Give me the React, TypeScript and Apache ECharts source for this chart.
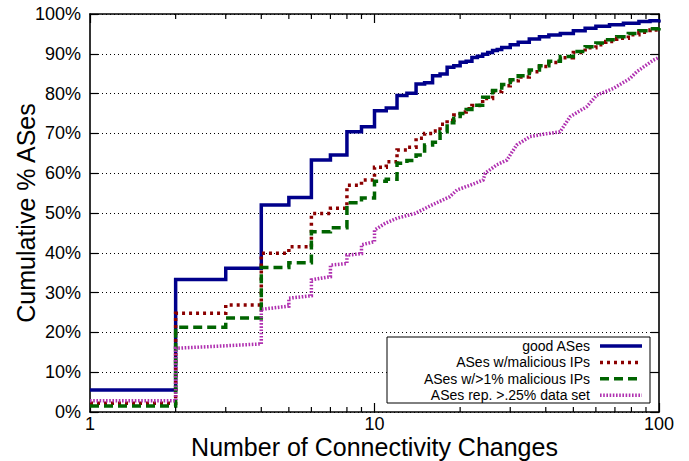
import React, { useEffect, useRef } from "react";
import * as echarts from "echarts";

// Step CDFs of connectivity changes per AS group: [changes, cumulative %]
const GOOD_ASES: [number, number][] = [
  [1, 5.5], [2, 33.3], [3, 36.1], [4, 52.0], [5, 53.9], [6, 63.3], [7, 64.6], [8, 70.4], [9, 71.7],
  [10, 75.7], [11, 76.4], [12, 79.5], [13, 80.1], [14, 82.4], [15, 82.7], [16, 84.5], [17, 84.9],
  [18, 86.6], [19, 87.0], [20, 87.9], [21, 88.1], [22, 89.1], [23, 89.4], [24, 89.9], [25, 90.3],
  [26, 90.8], [27, 91.1], [28, 91.6], [30, 92.3], [32, 92.9], [35, 93.7], [38, 94.3], [41, 94.7],
  [45, 95.1], [50, 95.8], [55, 96.4], [60, 96.9], [67, 97.3], [75, 97.7], [85, 98.1], [93, 98.3],
  [100, 98.6],
];

const MALICIOUS_ASES: [number, number][] = [
  [1, 2.2], [2, 24.8], [3, 26.9], [4, 39.9], [5, 41.5], [6, 49.9], [7, 51.2], [8, 57.0], [9, 58.3],
  [10, 61.5], [11, 62.9], [12, 65.8], [13, 66.5], [14, 68.8], [15, 70.0], [16, 70.6], [17, 72.3],
  [18, 73.3], [19, 74.6], [20, 75.4], [21, 76.2], [22, 77.0], [24, 78.8], [26, 80.5], [28, 82.0],
  [30, 83.2], [32, 84.2], [35, 85.5], [38, 86.8], [41, 87.8], [45, 89.0], [50, 90.3], [55, 91.5],
  [60, 92.3], [65, 93.1], [71, 93.9], [78, 94.8], [85, 95.4], [93, 96.0], [100, 96.4],
];

const MALICIOUS_1PCT_ASES: [number, number][] = [
  [1, 1.5], [2, 21.3], [3, 23.6], [4, 36.3], [5, 37.5], [6, 45.3], [7, 46.3], [8, 52.6], [9, 53.8],
  [10, 58.0], [11, 58.5], [12, 62.5], [13, 63.2], [14, 64.6], [15, 67.1], [16, 67.8], [17, 70.4],
  [18, 72.7], [19, 73.8], [20, 75.0], [21, 76.0], [22, 77.1], [24, 79.1], [26, 80.8], [28, 82.3],
  [30, 83.5], [32, 84.5], [35, 85.9], [38, 87.0], [41, 88.1], [45, 89.3], [50, 90.6], [55, 91.8],
  [60, 92.7], [65, 93.5], [71, 94.3], [78, 95.1], [85, 95.8], [93, 96.3], [100, 96.8],
];

const REP_25PCT_ASES: [number, number][] = [
  [1, 2.8], [2, 2.8], [2, 16.0], [4, 17.1], [4, 25.8], [5, 26.6], [5, 28.6], [6, 29.2], [6, 33.2],
  [7, 34.0], [7, 36.9], [8, 37.3], [8, 39.4], [9, 39.8], [9, 42.0], [10, 42.8], [10, 45.7],
  [10.9, 47.4], [12, 48.7], [13.9, 49.9], [15.9, 52.0], [18.4, 54.1], [19.5, 55.8], [21.7, 57.0],
  [24.1, 58.3], [24.5, 60.0], [26.9, 62.1], [29.2, 63.3], [31.6, 67.1], [35.2, 69.2], [39.2, 69.8],
  [44.9, 70.4], [48.7, 74.2], [55.7, 76.7], [60.4, 79.6], [69.1, 81.3], [79.1, 83.8], [83.5, 85.5],
  [95.5, 88.4], [100, 89.1],
];

const SERIES_NAMES = [
  "good ASes",
  "ASes w/malicious IPs",
  "ASes w/>1% malicious IPs",
  "ASes rep. >.25% data set",
];

const X_MINOR_TICKS = [2, 3, 4, 5, 6, 7, 8, 9, 20, 30, 40, 50, 60, 70, 80, 90];

const FONT = '"Liberation Sans", Arial, Helvetica, sans-serif';

const STYLES = [
  { color: "#00008b", type: "solid" as any, width: 3.5 },
  { color: "#8b0000", type: [3, 4], width: 3.5 },
  { color: "#006400", type: [9, 5], width: 3.5 },
  { color: "#b030b0", type: [1.6, 1.6], width: 3.5 },
];

export default function App() {
  const ref = useRef<HTMLDivElement>(null);

  useEffect(() => {
    if (!ref.current) return;
    const chart = echarts.init(ref.current, null, { renderer: "svg" });

    const datasets = [GOOD_ASES, MALICIOUS_ASES, MALICIOUS_1PCT_ASES, REP_25PCT_ASES];

    const lineSeries = datasets.map((data, i) => ({
      name: SERIES_NAMES[i],
      type: "line",
      data,
      step: i < 3 ? "end" : false,
      showSymbol: false,
      symbol: "none",
      lineStyle: {
        color: STYLES[i].color,
        width: STYLES[i].width,
        type: STYLES[i].type,
        cap: "butt",
        join: "miter",
      },
      xAxisIndex: 0,
      yAxisIndex: 0,
      z: 3 + i,
    }));

    // legend box
    const boxX = 387, boxY = 337, boxW = 263, boxH = 66;
    const rowY0 = 346, rowStep = 16.4;
    const legendItems: any[] = [
      {
        type: "rect",
        shape: { x: boxX, y: boxY, width: boxW, height: boxH },
        style: { fill: "#fff", stroke: "#000", lineWidth: 1 },
        z: 20,
      },
    ];
    SERIES_NAMES.forEach((name, i) => {
      const y = rowY0 + i * rowStep;
      legendItems.push({
        type: "text",
        x: 590,
        y,
        z: 21,
        style: {
          text: name,
          fill: "#000",
          font: `14px ${FONT}`,
          align: "right",
          textAlign: "right",
          verticalAlign: "middle",
          textVerticalAlign: "middle",
        },
      });
      legendItems.push({
        type: "line",
        z: 21,
        shape: { x1: 600, y1: y, x2: 642, y2: y },
        style: {
          stroke: STYLES[i].color,
          lineWidth: STYLES[i].width,
          lineDash: Array.isArray(STYLES[i].type) ? STYLES[i].type : null,
        },
      });
    });

    const axisLine = { show: true, onZero: false, lineStyle: { color: "#000", width: 1.6 } };

    chart.setOption({
      animation: false,
      backgroundColor: "#fff",
      grid: {
        left: 90,
        right: 30,
        top: 14,
        bottom: 49,
        containLabel: false,
        outerBoundsMode: "none",
      },
      xAxis: [
        {
          type: "log",
          logBase: 10,
          min: 1,
          max: 100,
          position: "bottom",
          name: "Number of Connectivity Changes",
          nameLocation: "middle",
          nameGap: 22,
          nameMoveOverlap: false,
          nameTextStyle: { fontFamily: FONT, fontSize: 25, color: "#000", verticalAlign: "top" },
          axisLine,
          axisTick: { show: true, inside: true, length: 9, lineStyle: { color: "#000", width: 1.2 } },
          axisLabel: { fontFamily: FONT, fontSize: 18, color: "#000", margin: 3 },
          splitLine: { show: false },
          minorTick: { show: false },
        },
        {
          type: "log",
          logBase: 10,
          min: 1,
          max: 100,
          position: "top",
          axisLine,
          axisTick: { show: true, inside: true, length: 9, lineStyle: { color: "#000", width: 1.2 } },
          axisLabel: { show: false },
          splitLine: { show: false },
        },
      ],
      yAxis: [
        {
          type: "value",
          min: 0,
          max: 100,
          interval: 10,
          position: "left",
          name: "Cumulative % ASes",
          nameLocation: "middle",
          nameGap: 52,
          nameRotate: 90,
          nameMoveOverlap: false,
          nameTextStyle: { fontFamily: FONT, fontSize: 25, color: "#000" },
          axisLine,
          axisTick: { show: true, inside: true, length: 8, lineStyle: { color: "#000", width: 1.2 } },
          axisLabel: { fontFamily: FONT, fontSize: 18, color: "#000", margin: 9, formatter: "{value}%" },
          splitLine: { show: true, lineStyle: { color: "#000", width: 1, type: [1, 3] } },
        },
        {
          type: "value",
          min: 0,
          max: 100,
          interval: 10,
          position: "right",
          axisLine,
          axisTick: { show: true, inside: true, length: 8, lineStyle: { color: "#000", width: 1.2 } },
          axisLabel: { show: false },
          splitLine: { show: false },
        },
      ],
      series: [
        ...lineSeries,
        {
          type: "custom",
          silent: true,
          clip: false,
          xAxisIndex: 0,
          yAxisIndex: 0,
          z: 10,
          data: X_MINOR_TICKS.map((v) => [v, 0]),
          renderItem: (params: any, api: any) => {
            const cs = params.coordSys;
            const px = api.coord([api.value(0), 0])[0];
            const top = cs.y;
            const bottom = cs.y + cs.height;
            const style = { stroke: "#000", lineWidth: 1.2 };
            return {
              type: "group",
              children: [
                { type: "line", shape: { x1: px, y1: bottom, x2: px, y2: bottom - 5 }, style },
                { type: "line", shape: { x1: px, y1: top, x2: px, y2: top + 5 }, style },
              ],
            };
          },
        },
      ],
      graphic: legendItems,
    });

    return () => chart.dispose();
  }, []);

  return (
    <div
      ref={ref}
      style={{ position: "fixed", left: 0, top: 0, width: 689, height: 461, background: "#fff" }}
    />
  );
}
